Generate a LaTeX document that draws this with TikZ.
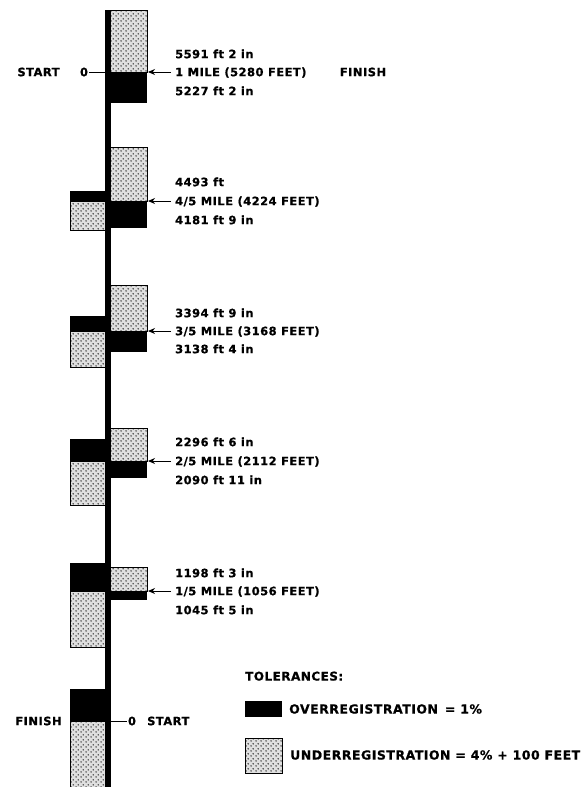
\documentclass[tikz,border=0pt]{standalone}
\usepackage{fontspec}
\setmainfont{DejaVu Sans}[LetterSpace=4, BoldFeatures={FakeBold=0.7}]
\usetikzlibrary{
    patterns.meta,
    arrows.meta
}
\tikzdeclarepattern{
  name=speckle,
  type=uncolored,
  bounding box={(0pt,0pt) and (5pt,5pt)},
  tile size={(5pt,5pt)},
  code={
    \fill (1.25pt,1.25pt) circle [radius=0.9pt];
    \fill (3.75pt,3.75pt) circle [radius=0.9pt];
  }
}
\tikzset{
  axis/.style={
    black,
    line width=6pt
  },
  overreg/.style={
    fill=black
  },
  underreg/.style={
    draw=black,
    line width=0.9pt,
    preaction={fill=gray!25},
    pattern=speckle,
    pattern color=black!80
  },
  lbl/.style={
    font=\bfseries\fontsize{11.5}{13}\selectfont,
    text height=8.4pt,
    text depth=0pt,
    inner sep=1pt
  },
  legtxt/.style={
    font=\bfseries\fontsize{12.5}{14}\selectfont,
    text height=9.1pt,
    text depth=0pt,
    inner sep=1pt,
    anchor=west
  },
  pointer/.style={
    -{Stealth[length=7pt,width=6pt]},
    line width=1pt,
    shorten <=3pt
  },
  tick/.style={
    line width=1pt
  }
}

\begin{document}
\begin{tikzpicture}[x=1pt,y=-1pt]
    \useasboundingbox (0,0) rectangle (586,787);

    % 右側の許容範囲 (上から 1, 4/5, 3/5, 2/5, 1/5 マイル)
    \draw[underreg] (110,10) rectangle (147,72);
    \fill[overreg] (110,72) rectangle (147,103);
    \draw[underreg] (110,147) rectangle (147,201);
    \fill[overreg] (110,201) rectangle (147,228);
    \draw[underreg] (110,285) rectangle (147,331);
    \fill[overreg] (110,331) rectangle (147,352);
    \draw[underreg] (110,428) rectangle (147,461);
    \fill[overreg] (110,461) rectangle (147,478);
    \draw[underreg] (110,567) rectangle (147,591);
    \fill[overreg] (110,591) rectangle (147,600);

    % 左側の許容範囲 (下から測る)
    \fill[overreg] (70,191) rectangle (106,201.5);
    \draw[underreg] (70,201.5) rectangle (106,230);
    \fill[overreg] (70,316) rectangle (106,331.5);
    \draw[underreg] (70,331.5) rectangle (106,367);
    \fill[overreg] (70,439) rectangle (106,461);
    \draw[underreg] (70,461) rectangle (106,505);
    \fill[overreg] (70,563) rectangle (106,591);
    \draw[underreg] (70,591) rectangle (106,647);
    \fill[overreg] (70,689) rectangle (106,721);
    \draw[underreg] (70,721) rectangle (106,787);

    % 中央の軸
    \draw[axis] (108,10) -- (108,787);

    % 上端: START 0 と FINISH
    \node[lbl] (startT) at (38.5,72) {START};
    \node[lbl] (zeroT) at (84,72) {0};
    \coordinate (tickT) at (105,72);
    \draw[tick] (zeroT) -- (tickT);
    \node[lbl] (finishT) at (363,72) {FINISH};

    % 下端: FINISH と 0 START
    \node[lbl] (finishB) at (38.5,721) {FINISH};
    \node[lbl] (zeroB) at (132,721) {0};
    \coordinate (tickB) at (111,721);
    \draw[tick] (zeroB) -- (tickB);
    \node[lbl,anchor=west] (startB) at (146,721) {START};

    % 各地点のラベルと矢印
    \node[lbl,anchor=west] (hi5) at (174,54) {5591 ft 2 in};
    \node[lbl,anchor=west] (d5) at (174,72) {1 MILE (5280 FEET)};
    \node[lbl,anchor=west] (lo5) at (174,91) {5227 ft 2 in};
    \coordinate (m5) at (148,72);
    \draw[pointer] (d5) -- (m5);

    \node[lbl,anchor=west] (hi4) at (174,182) {4493 ft};
    \node[lbl,anchor=west] (d4) at (174,201) {4/5 MILE (4224 FEET)};
    \node[lbl,anchor=west] (lo4) at (174,220) {4181 ft 9 in};
    \coordinate (m4) at (148,201);
    \draw[pointer] (d4) -- (m4);

    \node[lbl,anchor=west] (hi3) at (174,313) {3394 ft 9 in};
    \node[lbl,anchor=west] (d3) at (174,331) {3/5 MILE (3168 FEET)};
    \node[lbl,anchor=west] (lo3) at (174,349) {3138 ft 4 in};
    \coordinate (m3) at (148,331);
    \draw[pointer] (d3) -- (m3);

    \node[lbl,anchor=west] (hi2) at (174,442) {2296 ft 6 in};
    \node[lbl,anchor=west] (d2) at (174,461) {2/5 MILE (2112 FEET)};
    \node[lbl,anchor=west] (lo2) at (174,480) {2090 ft 11 in};
    \coordinate (m2) at (148,461);
    \draw[pointer] (d2) -- (m2);

    \node[lbl,anchor=west] (hi1) at (174,573) {1198 ft 3 in};
    \node[lbl,anchor=west] (d1) at (174,591) {1/5 MILE (1056 FEET)};
    \node[lbl,anchor=west] (lo1) at (174,610) {1045 ft 5 in};
    \coordinate (m1) at (148,591);
    \draw[pointer] (d1) -- (m1);

    % 凡例
    \node[legtxt,font=\bfseries\fontsize{12}{14}\selectfont] (tol) at (244,676) {TOLERANCES:};
    \fill[overreg] (245,701) rectangle (282,717);
    \node[legtxt] (overtxt) at (288,709) {OVERREGISTRATION \,= 1\%};
    \draw[underreg] (245,738) rectangle (282,773);
    \node[legtxt] (undertxt) at (289,755) {UNDERREGISTRATION = 4\% + 100 FEET};
\end{tikzpicture}
\end{document}
